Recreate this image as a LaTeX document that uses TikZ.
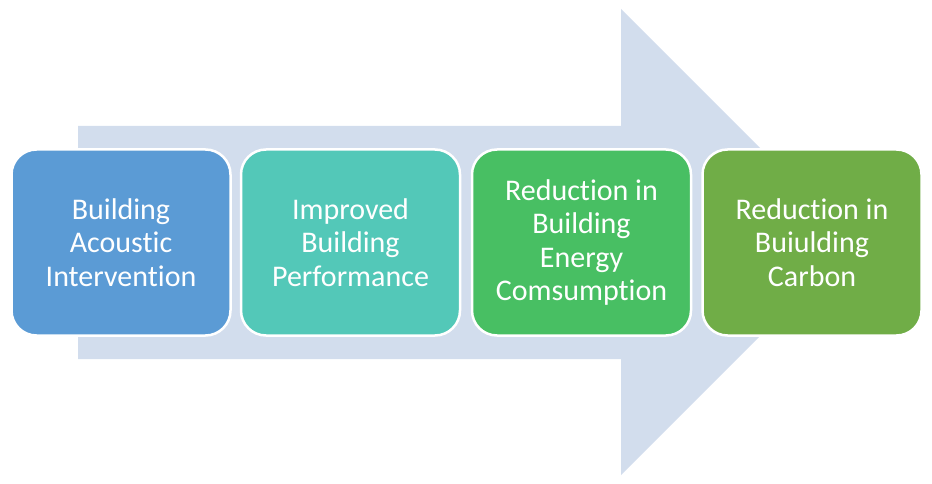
\documentclass[tikz,border=0pt]{standalone}
\usepackage{fontspec}
\setmainfont{Carlito}[Ligatures={NoCommon,NoContextual}]
\definecolor{arrowc}{HTML}{D2DDED}
\definecolor{cA}{HTML}{5B9BD5}
\definecolor{cB}{HTML}{53C8B8}
\definecolor{cC}{HTML}{48BF63}
\definecolor{cD}{HTML}{70AD47}
\begin{document}
\begin{tikzpicture}[x=1pt,y=-1pt,
  stepbox/.style={draw=white,line width=2.5pt,rounded corners=25pt,
    minimum width=219pt,minimum height=186pt,inner sep=0pt,
    text=white,align=center,
    font=\fontsize{30}{33.5}\selectfont}]
\useasboundingbox (0,0) rectangle (932,484);
\fill[arrowc] (78,126) -- (621,126) -- (621,9) -- (854,242) -- (621,475) -- (621,359) -- (78,359) -- cycle;
\node[stepbox,fill=cA] (s1) at (121,242.5) {Building\\Acoustic\\Intervention};
\node[stepbox,fill=cB] (s2) at (350.5,242.5) {Improved\\Building\\Performance};
\node[stepbox,fill=cC] (s3) at (581.5,242.5) {Reduction in\\Building\\Energy\\Comsumption};
\node[stepbox,fill=cD] (s4) at (812,242.5) {Reduction in\\Buiulding\\Carbon};
\end{tikzpicture}
\end{document}
